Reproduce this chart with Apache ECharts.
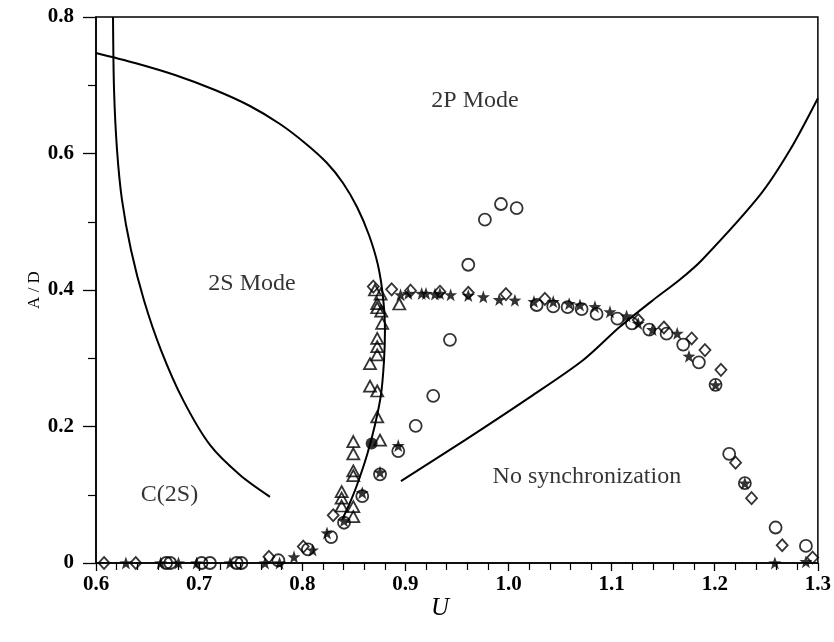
<!DOCTYPE html>
<html>
<head>
<meta charset="utf-8">
<script src="https://cdn.jsdelivr.net/npm/echarts@6/dist/echarts.min.js"></script>
<style>
  html, body { margin: 0; padding: 0; background: #fff; }
  #chart { width: 834px; height: 642px; }
</style>
</head>
<body>
<div id="chart"></div>
<script>
// Measured amplitude A/D against reduced velocity U, four marker sets
const circles = [
  [0.668, 0], [0.672, 0], [0.7024, 0], [0.7105, 0], [0.7364, 0], [0.741, 0],
  [0.7768, 0.004], [0.8055, 0.02], [0.828, 0.038], [0.8405, 0.059], [0.8582, 0.098],
  [0.8754, 0.13], [0.8931, 0.164], [0.910, 0.201], [0.927, 0.245], [0.9432, 0.327],
  [0.961, 0.437], [0.9771, 0.503], [0.9927, 0.526], [1.0079, 0.52],
  [1.0273, 0.378], [1.0434, 0.376], [1.0573, 0.375], [1.0709, 0.372], [1.0854, 0.365],
  [1.1056, 0.358], [1.1197, 0.351], [1.1365, 0.342], [1.1533, 0.336], [1.1694, 0.32],
  [1.1846, 0.294], [1.2008, 0.261], [1.214, 0.16], [1.2292, 0.117], [1.259, 0.052],
  [1.2884, 0.025]
];
const diamonds = [
  [0.6078, 0], [0.6385, 0], [0.7677, 0.009], [0.801, 0.024], [0.830, 0.070],
  [0.8689, 0.405], [0.8867, 0.401], [0.905, 0.399], [0.9335, 0.3975], [0.961, 0.396],
  [0.9975, 0.394], [1.0353, 0.387], [1.1258, 0.356], [1.1507, 0.345], [1.1776, 0.329],
  [1.1905, 0.312], [1.206, 0.283], [1.2202, 0.147], [1.2357, 0.095], [1.2654, 0.026],
  [1.2949, 0.008]
];
const triangles = [
  [0.8705, 0.40], [0.876, 0.394], [0.8727, 0.380], [0.8727, 0.374], [0.8766, 0.369],
  [0.8775, 0.351], [0.8727, 0.329], [0.8727, 0.317], [0.8727, 0.305], [0.8657, 0.292],
  [0.8657, 0.259], [0.8727, 0.252], [0.8727, 0.214], [0.8754, 0.18],
  [0.8495, 0.178], [0.8495, 0.16], [0.8495, 0.135], [0.8495, 0.128],
  [0.8382, 0.1045], [0.8382, 0.095], [0.8382, 0.0835], [0.8495, 0.0825], [0.8495, 0.068],
  [0.8941, 0.3795]
];
const stars = [
  [0.629, 0], [0.6627, 0], [0.680, 0], [0.6976, 0], [0.730, 0], [0.7639, 0], [0.778, 0],
  [0.792, 0.009], [0.810, 0.019], [0.824, 0.044], [0.8405, 0.062], [0.8582, 0.103],
  [0.8754, 0.133], [0.8931, 0.172],
  [0.8953, 0.393], [0.9028, 0.395], [0.9158, 0.395], [0.920, 0.395], [0.9287, 0.394],
  [0.9335, 0.395], [0.9439, 0.393], [0.961, 0.392], [0.9756, 0.39], [0.991, 0.386],
  [1.0062, 0.385], [1.0247, 0.383], [1.0434, 0.383], [1.0588, 0.38], [1.0693, 0.378],
  [1.0838, 0.3755], [1.0984, 0.368], [1.1145, 0.362], [1.1258, 0.351], [1.1397, 0.342],
  [1.1636, 0.3365], [1.175, 0.303], [1.2008, 0.261], [1.2292, 0.117], [1.2583, 0],
  [1.2884, 0.002]
];
const filledCircles = [[0.8673, 0.175]];

// Regime boundaries
const boundaryC2S = [
  [0.6165, 0.800], [0.6175, 0.693], [0.6204, 0.605], [0.6252, 0.532], [0.6339, 0.459],
  [0.6465, 0.385], [0.6630, 0.312], [0.6844, 0.239], [0.7105, 0.173], [0.7396, 0.129],
  [0.7687, 0.097]
];
const boundary2S = [
  [0.6000, 0.7473], [0.6378, 0.7326], [0.6766, 0.7150], [0.7154, 0.6930], [0.7493, 0.6696],
  [0.7784, 0.6432], [0.8026, 0.6154], [0.8240, 0.5861], [0.8395, 0.5568], [0.8531, 0.5216],
  [0.8647, 0.4806], [0.8734, 0.4366], [0.8783, 0.3897], [0.8802, 0.3414], [0.8792, 0.2945],
  [0.8763, 0.2462], [0.8705, 0.2022], [0.8628, 0.1582], [0.8531, 0.1143], [0.8453, 0.0850],
  [0.8385, 0.0630]
];
const boundaryNoSync = [
  [0.8957, 0.120], [0.9578, 0.18], [1.0208, 0.243], [1.0722, 0.297], [1.108, 0.346],
  [1.140, 0.385], [1.166, 0.415], [1.1876, 0.444], [1.2438, 0.539], [1.2729, 0.605],
  [1.3, 0.681]
];

const xTicks = [0.6, 0.7, 0.8, 0.9, 1.0, 1.1, 1.2, 1.3];
const yTicks = [0, 0.2, 0.4, 0.6, 0.8];

const serif = '"Liberation Serif", "DejaVu Serif", serif';
const starPath = 'path://M0,-10 L2.35,-3.24 L9.51,-3.09 L3.8,1.24 L5.88,8.09 L0,4 L-5.88,8.09 L-3.8,1.24 L-9.51,-3.09 L-2.35,-3.24 Z';

function openMarker(name, symbol, size, data) {
  return {
    name, type: 'scatter', data, symbol, symbolSize: size,
    itemStyle: { color: 'rgba(0,0,0,0)', borderColor: '#000', borderWidth: 1.8 },
    emphasis: { disabled: true }, z: 3
  };
}
function boundary(name, data) {
  return {
    name, type: 'line', data, smooth: 0.3, symbol: 'none',
    lineStyle: { color: '#000', width: 2 }, emphasis: { disabled: true }, z: 2
  };
}

const chart = echarts.init(document.getElementById('chart'), null, { renderer: 'canvas' });
chart.setOption({
  animation: false,
  backgroundColor: '#fff',
  grid: { left: 96, right: 16, top: 17, bottom: 79, show: true, borderColor: '#000', borderWidth: 1.5, backgroundColor: 'transparent' },
  xAxis: {
    type: 'value', min: xTicks[0], max: xTicks[xTicks.length - 1], interval: 0.1,
    axisLine: { onZero: false, lineStyle: { color: '#000', width: 1.5 } },
    axisTick: { show: true, inside: false, length: 8, lineStyle: { color: '#000', width: 1.3 } },
    minorTick: { show: true, splitNumber: 5, length: 7, lineStyle: { color: '#000', width: 1.2 } },
    splitLine: { show: false },
    axisLabel: {
      margin: 11, color: '#000', fontFamily: serif, fontSize: 21, fontWeight: 'bold',
      formatter: v => v.toFixed(1)
    }
  },
  yAxis: {
    type: 'value', min: yTicks[0], max: yTicks[yTicks.length - 1], interval: 0.2,
    axisLine: { onZero: false, lineStyle: { color: '#000', width: 1.5 } },
    axisTick: { show: true, inside: false, length: 13, lineStyle: { color: '#000', width: 1.3 } },
    minorTick: { show: true, splitNumber: 2, length: 8, lineStyle: { color: '#000', width: 1.2 } },
    splitLine: { show: false },
    axisLabel: {
      margin: 22, color: '#000', fontFamily: serif, fontSize: 21, fontWeight: 'bold',
      formatter: v => (v === 0 ? '0' : v.toFixed(1))
    },
    name: 'A / D', nameLocation: 'middle', nameRotate: 90, nameGap: 53, nameMoveOverlap: false,
    nameTextStyle: { color: '#000', fontFamily: serif, fontSize: 17 }
  },
  graphic: [
    { type: 'text', left: 431, top: 596, style: { text: 'U', fill: '#000', font: 'italic 25px ' + serif } }
  ],
  series: [
    boundary('C(2S) boundary', boundaryC2S),
    boundary('2S boundary', boundary2S),
    boundary('No synchronization boundary', boundaryNoSync),
    openMarker('circle', 'circle', 12, circles),
    openMarker('diamond', 'diamond', [11, 12], diamonds),
    openMarker('triangle', 'triangle', [12, 11], triangles),
    {
      name: 'star', type: 'scatter', data: stars, symbol: starPath, symbolSize: 13,
      itemStyle: { color: '#000' }, emphasis: { disabled: true }, z: 4
    },
    {
      name: 'filled', type: 'scatter', data: filledCircles, symbol: 'circle', symbolSize: 12,
      itemStyle: { color: '#000' }, emphasis: { disabled: true }, z: 4
    },
    {
      name: 'regions', type: 'scatter', symbolSize: 0, silent: true, z: 5,
      label: {
        show: true, position: 'inside', color: '#000', fontFamily: serif, fontSize: 24,
        formatter: p => p.name
      },
      data: [
        { name: '2P Mode', value: [0.9675, 0.678] },
        { name: '2S Mode', value: [0.7513, 0.4088] },
        { name: 'C(2S)', value: [0.6713, 0.0996] },
        { name: 'No synchronization', value: [1.0760, 0.1260] }
      ]
    }
  ]
});
</script>
</body>
</html>
